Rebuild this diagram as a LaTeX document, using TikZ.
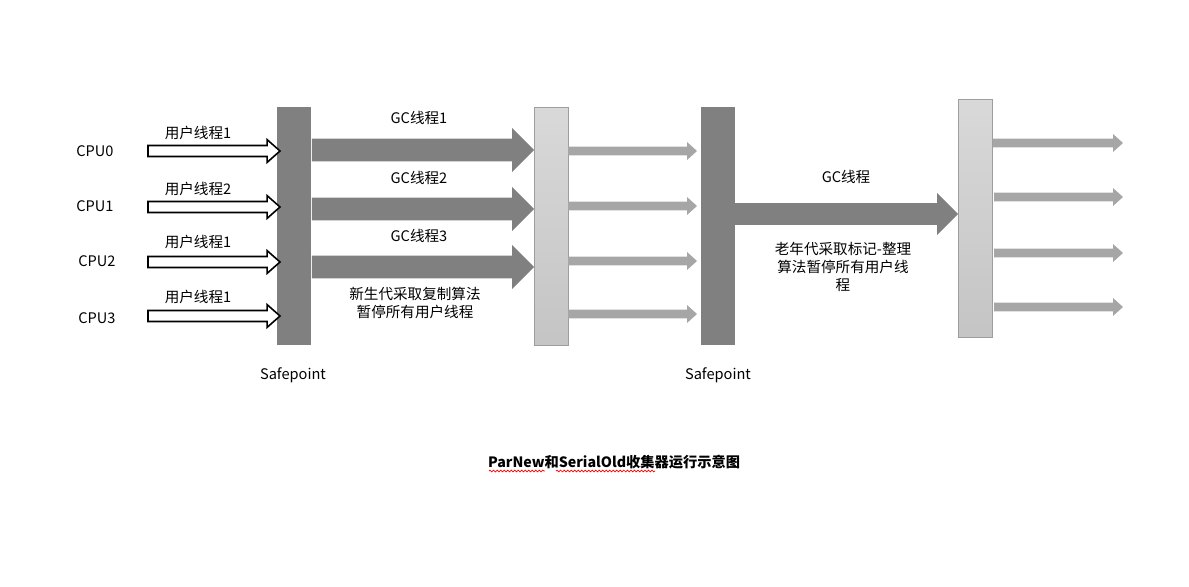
\documentclass[tikz,border=0pt]{standalone}
\usepackage{fontspec}
\setmainfont{Noto Sans CJK SC}
\usepackage{tikz}
\usetikzlibrary{calc,decorations.pathmorphing}

% one pixel of the drawing, in pt
\newcommand{\pxu}{0.5669pt}
% block arrow: style, from, to, body half height, head half height, head length (px)
\newcommand{\blockarrow}[6]{%
  \path[#1] let \p1=(#2), \p2=(#3) in
    (\x1,{\y1+#4*\pxu}) -- ({\x2-#6*\pxu},{\y1+#4*\pxu}) -- ({\x2-#6*\pxu},{\y1+#5*\pxu})
    -- (\x2,\y1) -- ({\x2-#6*\pxu},{\y1-#5*\pxu}) -- ({\x2-#6*\pxu},{\y1-#4*\pxu})
    -- (\x1,{\y1-#4*\pxu}) -- cycle;}

\begin{document}
\begin{tikzpicture}[x=0.02cm,y=-0.02cm]
	\tikzstyle{every node}=[font=\fontsize{8.3}{10.2}\selectfont]
	\tikzstyle{safebar}=[rectangle,inner sep=0,outer sep=0,fill=black!50,minimum width=0.68cm,minimum height=4.76cm]
	\tikzstyle{copybar}=[rectangle,inner sep=0,outer sep=0,draw=black!38,top color=black!15,bottom color=black!23,minimum width=0.68cm,minimum height=4.76cm]
	\tikzstyle{userarrow}=[draw=black,fill=white,line width=0.9pt,line join=miter]
	\tikzstyle{gcarrow}=[fill=black!50]
	\tikzstyle{runarrow}=[fill=black!35]
	\useasboundingbox (0,0) rectangle (1189,587);
	% bars
	\node[safebar](sp1) at (294,226) {};
	\node[copybar](lb1) at (551,226) {};
	\node[safebar](sp2) at (718,226) {};
	\node[copybar](lb2) at (975,218) {};
	% cpus and user threads
	\node(cpu0) at (95,151) {CPU0};
	\node(cpu1) at (95,206) {CPU1};
	\node(cpu2) at (97,261) {CPU2};
	\node(cpu3) at (97,318) {CPU3};
	\coordinate(u0) at (148,151);
	\coordinate(u1) at (148,207);
	\coordinate(u2) at (148,262);
	\coordinate(u3) at (148,316);
	\blockarrow{userarrow}{u0}{[xshift=3*\pxu]sp1.west |- u0}{5.5}{11.5}{13}
	\blockarrow{userarrow}{u1}{[xshift=3*\pxu]sp1.west |- u1}{5.5}{11.5}{13}
	\blockarrow{userarrow}{u2}{[xshift=3*\pxu]sp1.west |- u2}{5.5}{11.5}{13}
	\blockarrow{userarrow}{u3}{[xshift=3*\pxu]sp1.west |- u3}{5.5}{11.5}{13}
	\node(t0) at (198,133) {用户线程1};
	\node(t1) at (198,189) {用户线程2};
	\node(t2) at (198,242) {用户线程1};
	\node(t3) at (198,297) {用户线程1};
	% young generation gc threads
	\coordinate(g1) at (312,150);
	\coordinate(g2) at (312,209);
	\coordinate(g3) at (312,267);
	\blockarrow{gcarrow}{[xshift=\pxu]sp1.east |- g1}{lb1.west |- g1}{11.5}{22}{22}
	\blockarrow{gcarrow}{[xshift=\pxu]sp1.east |- g2}{lb1.west |- g2}{11.5}{22}{22}
	\blockarrow{gcarrow}{[xshift=\pxu]sp1.east |- g3}{lb1.west |- g3}{11.5}{22}{22}
	\node(gc1) at (419,118) {GC线程1};
	\node(gc2) at (419,178) {GC线程2};
	\node(gc3) at (419,236) {GC线程3};
	\node[align=center](young) at (415,303) {新生代采取复制算法\\暂停所有用户线程};
	% threads running again
	\coordinate(r1) at (697,151);
	\coordinate(r2) at (697,206);
	\coordinate(r3) at (697,261);
	\coordinate(r4) at (697,314);
	\blockarrow{runarrow}{lb1.east |- r1}{r1}{4.5}{9}{10}
	\blockarrow{runarrow}{lb1.east |- r2}{r2}{4.5}{9}{10}
	\blockarrow{runarrow}{lb1.east |- r3}{r3}{4.5}{9}{10}
	\blockarrow{runarrow}{lb1.east |- r4}{r4}{4.5}{9}{10}
	% old generation gc thread
	\coordinate(g4) at (735,214);
	\blockarrow{gcarrow}{sp2.east |- g4}{lb2.west |- g4}{11}{21}{21}
	\node(gc4) at (846,177) {GC线程};
	\node[align=center](old) at (843,267) {老年代采取标记-整理\\算法暂停所有用户线\\程};
	% threads running again
	\coordinate(s1) at (1123,143);
	\coordinate(s2) at (1123,197);
	\coordinate(s3) at (1123,253);
	\coordinate(s4) at (1123,307);
	\blockarrow{runarrow}{[xshift=\pxu]lb2.east |- s1}{s1}{4.5}{9}{10}
	\blockarrow{runarrow}{[xshift=2*\pxu]lb2.east |- s2}{s2}{4.5}{9}{10}
	\blockarrow{runarrow}{[xshift=2*\pxu]lb2.east |- s3}{s3}{4.5}{9}{10}
	\blockarrow{runarrow}{[xshift=2*\pxu]lb2.east |- s4}{s4}{4.5}{9}{10}
	\node(sf1) at (293,375) {Safepoint};
	\node(sf2) at (718,375) {Safepoint};
	% caption
	\node[font=\fontsize{8.1}{10}\selectfont\bfseries](title) at (614,462) {ParNew和SerialOld收集器运行示意图};
	\draw[red,line width=0.4pt,decorate,decoration={snake,amplitude=0.5pt,segment length=2pt}] (489,471) -- (545,471);
	\draw[red,line width=0.4pt,decorate,decoration={snake,amplitude=0.5pt,segment length=2pt}] (556,471) -- (655,471);
\end{tikzpicture}
\end{document}
